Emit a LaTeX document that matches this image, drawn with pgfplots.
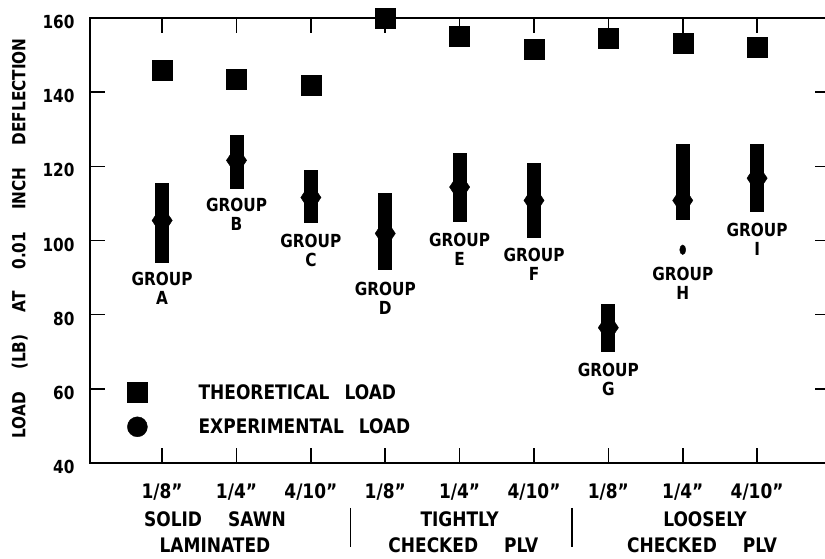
\documentclass[border=0pt]{standalone}
\usepackage{fontspec}
\setmainfont{DejaVu Sans}[FakeStretch=0.85]
\usepackage{pgfplots}
\usepackage{pgfplotstable}
\pgfplotsset{compat=1.18}

\pgfplotstableread{
x theo
0 146.0
1 143.5
2 142.0
3 160.0
4 155.0
5 151.6
6 154.6
7 153.2
8 152.2
}\theo

\pgfplotstableread{
x mean plus minus
0 105.4 10.0 11.4
1 121.6 6.8 7.6
2 111.6 7.4 7.0
3 101.9 10.8 9.9
4 114.4 9.1 9.4
5 110.8 10.0 10.0
6 76.5 6.5 6.5
7 110.8 15.2 5.4
8 116.8 9.2 9.2
}\expt

\newcommand{\fa}{\bfseries\fontsize{18}{19}\selectfont}
\newcommand{\fb}{\bfseries\fontsize{20}{22}\selectfont}

\begin{document}
\begin{tikzpicture}
\useasboundingbox (-90pt,-95pt) rectangle (735pt,463pt);
\begin{axis}[
  scale only axis, width=740pt, height=445pt,
  xmin=-0.97, xmax=8.98, ymin=40, ymax=160,
  xtick={0,...,8}, ytick={40,60,...,160},
  tick align=inside, major tick length=15pt,
  major tick style={black, line width=1.6pt},
  axis line style={line width=1.8pt},
  xticklabels={1/8",1/4",4/10",1/8",1/4",4/10",1/8",1/4",4/10"},
  yticklabels={40,60,80,100,120,140,160},
  xticklabel style={font=\fb, anchor=base, yshift=-35pt},
  yticklabel style={font=\fa, anchor=east, xshift=-12pt, yshift=-4pt},
  ylabel={LOAD\hspace{22pt}(LB)\hspace{22pt}AT\hspace{22pt}0.01\hspace{22pt}INCH\hspace{22pt}DEFLECTION},
  ylabel style={font=\fa, at={(axis description cs:-0.095,0.505)}, anchor=center},
  clip=false,
  legend cell align=left,
  legend style={at={(axis description cs:0.05,0.058)}, anchor=south west,
    draw=none, fill=none, inner sep=0pt, row sep=14pt, font=\fb,
    nodes={inner sep=0pt}},
]
\addplot[only marks, mark=square*, mark size=10pt, black,
  legend image code/.code={\fill[black] (0pt,-10pt) rectangle (20pt,10pt);}]
  table[x=x, y=theo] \theo;
\addlegendentry{\hspace*{51pt}THEORETICAL\hspace{15pt}LOAD}
\addlegendimage{legend image code/.code={\fill[black] (10pt,0pt) circle (10pt);}}
\addlegendentry{\hspace*{51pt}EXPERIMENTAL\hspace{15pt}LOAD}

\addplot[only marks, mark=diamond*, mark size=15pt, black, forget plot,
  mark options={xscale=0.9},
  error bars/.cd, y dir=both, y explicit, error mark=none,
  error bar style={line width=14pt, black}]
  table[x=x, y=mean, y error plus=plus, y error minus=minus] \expt;
\addplot[only marks, mark=*, mark size=3pt, black, forget plot,
  mark options={yscale=1.6}] coordinates {(7,97.5)};

% inward axis ticks
\pgfplotsinvokeforeach{0,1,2,3,4,5,6,7,8}{
  \draw[line width=1.6pt] (axis cs:#1,160) -- ++(0pt,-15pt);
  \draw[line width=1.6pt] (axis cs:#1,40) -- ++(0pt,15pt);
}
\pgfplotsinvokeforeach{60,80,100,120,140}{
  \draw[line width=1.6pt] (axis cs:-0.97,#1) -- ++(15pt,0pt);
  \draw[line width=1.6pt] (axis cs:8.98,#1) -- ++(-15pt,0pt);
}

\node[font=\fa, align=center] at (axis cs:0,87.2) {GROUP\\A};
\node[font=\fa, align=center] at (axis cs:1,107.1) {GROUP\\B};
\node[font=\fa, align=center] at (axis cs:2,97.2) {GROUP\\C};
\node[font=\fa, align=center] at (axis cs:3,84.5) {GROUP\\D};
\node[font=\fa, align=center] at (axis cs:4,97.7) {GROUP\\E};
\node[font=\fa, align=center] at (axis cs:5,93.7) {GROUP\\F};
\node[font=\fa, align=center] at (axis cs:6,62.6) {GROUP\\G};
\node[font=\fa, align=center] at (axis cs:7,88.5) {GROUP\\H};
\node[font=\fa, align=center] at (axis cs:8,100.4) {GROUP\\I};

\node[font=\fb, anchor=base] at (axis cs:0.71,23.0) {SOLID\hspace{26pt}SAWN};
\node[font=\fb, anchor=base] at (axis cs:0.71,15.8) {LAMINATED};
\node[font=\fb, anchor=base] at (axis cs:4.0,23.0) {TIGHTLY};
\node[font=\fb, anchor=base] at (axis cs:4.05,15.8) {CHECKED\hspace{26pt}PLV};
\node[font=\fb, anchor=base] at (axis cs:7.3,23.0) {LOOSELY};
\node[font=\fb, anchor=base] at (axis cs:7.26,15.8) {CHECKED\hspace{26pt}PLV};
\draw[line width=1.6pt] (axis cs:2.53,27.9) -- (axis cs:2.53,17.3);
\draw[line width=1.6pt] (axis cs:5.51,27.9) -- (axis cs:5.51,17.3);
\end{axis}
\end{tikzpicture}
\end{document}
